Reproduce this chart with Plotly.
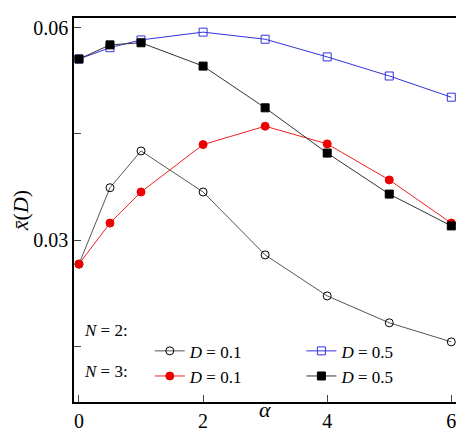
import plotly.graph_objects as go

alpha = [0, 0.5, 1, 2, 3, 4, 5, 6]
n2_d01 = [0.0266, 0.0374, 0.0426, 0.0368, 0.0279, 0.0221, 0.0183, 0.0156]
n2_d05 = [0.0556, 0.0572, 0.0583, 0.0594, 0.0584, 0.0559, 0.0532, 0.0502]
n3_d01 = [0.0266, 0.0324, 0.0368, 0.0435, 0.0461, 0.0436, 0.0385, 0.0324]
n3_d05 = [0.0556, 0.0576, 0.0579, 0.0546, 0.0487, 0.0423, 0.0365, 0.0320]

font = "Liberation Serif, Times New Roman, DejaVu Serif, serif"

fig = go.Figure()
series = [
    ("<i>D</i> = 0.1", n2_d01, "#555555", "circle-open", "black"),
    ("<i>D</i> = 0.5", n2_d05, "#3333dd", "square-open", "#3333dd"),
    ("<i>D</i> = 0.1", n3_d01, "#ee2222", "circle", "#ee0000"),
    ("<i>D</i> = 0.5", n3_d05, "#333333", "square", "black"),
]
for name, ys, lc, sym, mc in series:
    fig.add_trace(go.Scatter(
        x=alpha, y=ys, mode="lines+markers", name=name,
        line=dict(color=lc, width=1),
        marker=dict(symbol=sym, size=8, color=mc, line=dict(color=mc, width=1)),
    ))

fig.update_layout(
    width=464, height=444,
    margin=dict(l=66, r=12, t=8, b=50),
    plot_bgcolor="white", paper_bgcolor="white",
    font=dict(family=font, size=20, color="black"),
    showlegend=True,
    legend=dict(
        orientation="h", x=0.2, y=0.02, xanchor="left", yanchor="bottom",
        entrywidth=0.4, entrywidthmode="fraction",
        bgcolor="rgba(0,0,0,0)", font=dict(size=17, family=font),
    ),
    annotations=[
        dict(x=0.02, y=0.155, xref="paper", yref="paper", text="<i>N</i> = 2:",
             showarrow=False, xanchor="left", font=dict(size=17)),
        dict(x=0.02, y=0.05, xref="paper", yref="paper", text="<i>N</i> = 3:",
             showarrow=False, xanchor="left", font=dict(size=17)),
        dict(x=3, y=0, xref="x", yref="paper", yshift=-22, text="<i>α</i>",
             showarrow=False, font=dict(size=22)),
    ],
)
fig.update_xaxes(
    range=[-0.08, 6.14], tickvals=[0, 2, 4, 6], ticks="inside", ticklen=7,
    showgrid=False, zeroline=False, showline=True, linecolor="black",
    linewidth=1.5, mirror=True,
)
fig.update_yaxes(
    range=[0.0071, 0.0614], tickvals=[0.015, 0.03, 0.045, 0.06],
    ticktext=["", "0.03", "", "0.06"], ticks="inside", ticklen=7,
    showgrid=False, zeroline=False, showline=True, linecolor="black",
    linewidth=1.5, mirror=True,
    title=dict(text="<i>x̄</i>(<i>D</i>)", standoff=2, font=dict(size=22)),
)

fig.write_html("out.html")
